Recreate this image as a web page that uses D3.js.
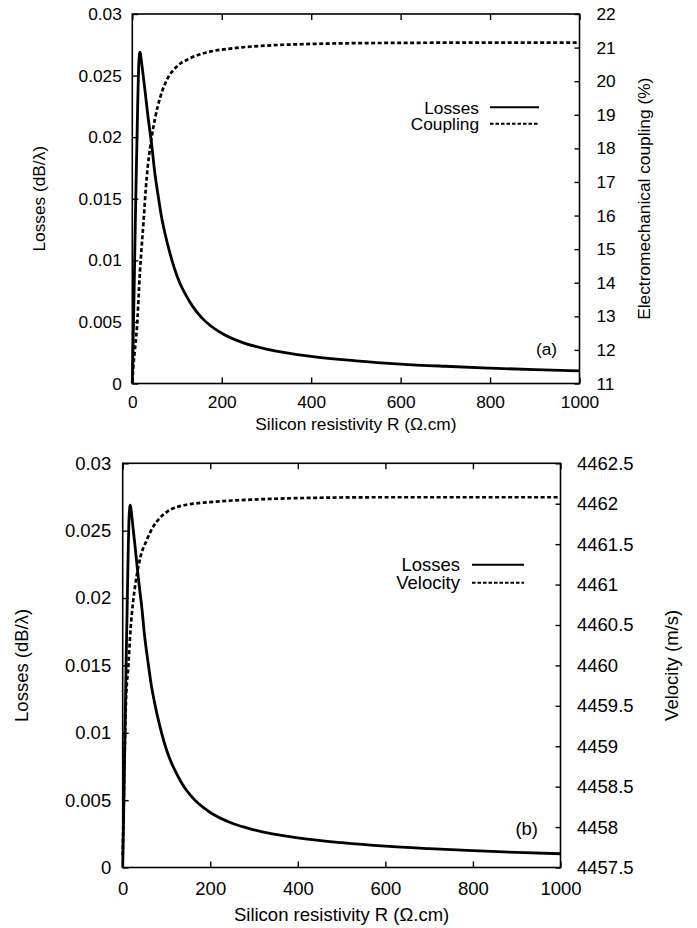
<!DOCTYPE html>
<html>
<head>
<meta charset="utf-8">
<script src="https://cdn.jsdelivr.net/npm/d3@7"></script>
<style>
  html, body { margin: 0; padding: 0; background: #fff; }
  svg { display: block; }
  text { font-family: "Liberation Sans", Arial, Helvetica, sans-serif; fill: #000; }
</style>
</head>
<body>
<svg id="fig" width="697" height="928"></svg>
<script>
// Silicon resistivity R (Ω.cm) and propagation losses (dB/λ)
const lossR  = [0, 2, 4, 6, 8, 10, 12, 14, 16, 17, 18, 20, 23, 26, 29, 35, 40, 43, 50, 58, 65, 73, 84, 95, 107, 118, 135, 155, 175, 200, 250, 300, 400, 500, 600, 700, 800, 900, 1000];
const lossDb = [0, 0.0035, 0.0075, 0.0115, 0.0155, 0.019, 0.0225, 0.0255, 0.0267, 0.0269, 0.0268, 0.0263, 0.0254, 0.0245, 0.0236, 0.0217, 0.0203, 0.0195, 0.0172, 0.0152, 0.0136, 0.0122, 0.0106, 0.00926, 0.0081, 0.0073, 0.00626, 0.00535, 0.00469, 0.00408, 0.00328, 0.0028, 0.0022, 0.00184, 0.00158, 0.0014, 0.00125, 0.00112, 0.00102];

// Electromechanical coupling (%)
const couplingR   = [0, 2, 5, 10, 17, 25, 32, 43, 51, 62, 77, 99, 129, 174, 225, 300, 375, 487, 600, 800, 1000];
const couplingPct = [11.05, 11.45, 11.9, 12.6, 14.3, 15.8, 17.1, 18.3, 18.9, 19.5, 20.03, 20.43, 20.68, 20.88, 20.98, 21.06, 21.10, 21.13, 21.14, 21.15, 21.15];

// Phase velocity (m/s)
const velocityR  = [0, 2, 4, 7.6, 13, 18, 24, 28, 35, 40, 55, 70, 78, 101, 139, 200, 292, 406, 600, 800, 1000];
const velocityMs = [4457.65, 4458.2, 4458.8, 4459.57, 4460.0, 4460.45, 4460.8, 4460.97, 4461.2, 4461.33, 4461.55, 4461.72, 4461.78, 4461.9, 4461.98, 4462.02, 4462.05, 4462.07, 4462.08, 4462.08, 4462.08];

// Tick values
const resistivityTicks = [0, 200, 400, 600, 800, 1000];
const lossTicks = [0, 0.005, 0.01, 0.015, 0.02, 0.025, 0.03];
const couplingTicks = [11, 12, 13, 14, 15, 16, 17, 18, 19, 20, 21, 22];
const velocityTicks = [4457.5, 4458, 4458.5, 4459, 4459.5, 4460, 4460.5, 4461, 4461.5, 4462, 4462.5];

const svg = d3.select("#fig");

function zip(xs, ys) { return xs.map((x, i) => ({ x, y: ys[i] })); }

function drawPanel(cfg) {
  const g = svg.append("g");
  const fs = cfg.fontSize;
  const x = d3.scaleLinear().domain([0, 1000]).range([cfg.left, cfg.right]);
  const yL = d3.scaleLinear().domain([0, 0.03]).range([cfg.bottom, cfg.top]);
  const yR = d3.scaleLinear().domain(cfg.rightDomain).range([cfg.bottom, cfg.top]);

  const styleAxis = sel => {
    sel.select(".domain").remove();
    sel.selectAll(".tick line").attr("stroke", "#000").attr("stroke-width", 1.4);
    sel.selectAll(".tick text").attr("font-size", fs).attr("fill", "#000")
      .style("font-family", '"Liberation Sans", Arial, sans-serif');
  };

  // bottom axis (inward ticks) and mirrored top ticks
  g.append("g").attr("transform", `translate(0,${cfg.bottom})`)
    .call(d3.axisBottom(x).tickValues(resistivityTicks).tickSizeInner(-6).tickSizeOuter(0)
      .tickPadding(cfg.xPad).tickFormat(d3.format("d")))
    .call(styleAxis);
  g.append("g").attr("transform", `translate(0,${cfg.top})`)
    .call(d3.axisTop(x).tickValues(resistivityTicks).tickSizeInner(-6).tickSizeOuter(0).tickFormat(""))
    .call(styleAxis);

  // left axis: losses
  g.append("g").attr("transform", `translate(${cfg.left},0)`)
    .call(d3.axisLeft(yL).tickValues(lossTicks).tickSizeInner(-6).tickSizeOuter(0)
      .tickPadding(cfg.leftPad).tickFormat(d => String(+d.toFixed(3))))
    .call(styleAxis);

  // right axis: coupling / velocity
  g.append("g").attr("transform", `translate(${cfg.right},0)`)
    .call(d3.axisRight(yR).tickValues(cfg.rightTicks).tickSizeInner(-5).tickSizeOuter(0)
      .tickPadding(cfg.rightPad).tickFormat(d => String(d)))
    .call(styleAxis);

  // plot frame
  g.append("rect")
    .attr("x", cfg.left).attr("y", cfg.top)
    .attr("width", cfg.right - cfg.left).attr("height", cfg.bottom - cfg.top)
    .attr("fill", "none").attr("stroke", "#000").attr("stroke-width", 1.6);

  // curves
  const lineL = d3.line().x(d => x(d.x)).y(d => yL(d.y)).curve(d3.curveMonotoneX);
  const lineR = d3.line().x(d => x(d.x)).y(d => yR(d.y)).curve(d3.curveMonotoneX);

  g.append("path").datum(zip(cfg.rightX, cfg.rightY)).attr("d", lineR)
    .attr("fill", "none").attr("stroke", "#000").attr("stroke-width", 2.7)
    .attr("stroke-dasharray", "4,2.5");
  g.append("path").datum(zip(lossR, lossDb)).attr("d", lineL)
    .attr("fill", "none").attr("stroke", "#000").attr("stroke-width", 2.8)
    .attr("stroke-linejoin", "round");

  // axis titles
  g.append("text").attr("x", (cfg.left + cfg.right) / 2).attr("y", cfg.xTitleY)
    .attr("text-anchor", "middle").attr("font-size", fs)
    .text("Silicon resistivity R (\u03A9.cm)");
  g.append("text")
    .attr("transform", `translate(${cfg.leftTitleX},${(cfg.top + cfg.bottom) / 2}) rotate(-90)`)
    .attr("text-anchor", "middle").attr("font-size", fs)
    .text("Losses (dB/\u03BB)");
  g.append("text")
    .attr("transform", `translate(${cfg.rightTitleX},${(cfg.top + cfg.bottom) / 2}) rotate(-90)`)
    .attr("text-anchor", "middle").attr("font-size", fs)
    .text(cfg.rightTitle);

  // key
  const key = g.append("g");
  cfg.key.forEach((k, i) => {
    const ky = cfg.keyY + i * cfg.keyGap;
    key.append("text").attr("x", cfg.keyTextX).attr("y", ky).attr("dy", "0.36em")
      .attr("text-anchor", "end").attr("font-size", fs).text(k.label);
    key.append("line").attr("x1", cfg.keyLineX0).attr("x2", cfg.keyLineX1)
      .attr("y1", ky).attr("y2", ky)
      .attr("stroke", "#000").attr("stroke-width", 2)
      .attr("stroke-dasharray", k.dashed ? "3.5,2" : null);
  });

  // panel tag
  g.append("text").attr("x", cfg.tagX).attr("y", cfg.tagY).attr("dy", "0.36em")
    .attr("text-anchor", "end").attr("font-size", fs).text(cfg.tag);
}

drawPanel({
  left: 132.3, right: 579.5, top: 14, bottom: 383.5, fontSize: 17.3,
  xPad: 12, leftPad: 10.5, rightPad: 17,
  rightDomain: [11, 22], rightTicks: couplingTicks,
  rightX: couplingR, rightY: couplingPct,
  xTitleY: 430, leftTitleX: 44.5, rightTitleX: 649.5,
  rightTitle: "Electromechanical coupling (%)",
  key: [{ label: "Losses", dashed: false }, { label: "Coupling", dashed: true }],
  keyY: 107.3, keyGap: 16.5, keyTextX: 479, keyLineX0: 490, keyLineX1: 539,
  tag: "(a)", tagX: 557, tagY: 349
});

drawPanel({
  left: 122.7, right: 560.5, top: 463.3, bottom: 867.5, fontSize: 18.5,
  xPad: 14, leftPad: 11.5, rightPad: 16.5,
  rightDomain: [4457.5, 4462.5], rightTicks: velocityTicks,
  rightX: velocityR, rightY: velocityMs,
  xTitleY: 921, leftTitleX: 27.8, rightTitleX: 678,
  rightTitle: "Velocity (m/s)",
  key: [{ label: "Losses", dashed: false }, { label: "Velocity", dashed: true }],
  keyY: 564.7, keyGap: 18, keyTextX: 460, keyLineX0: 472, keyLineX1: 524,
  tag: "(b)", tagX: 538, tagY: 828
});
</script>
</body>
</html>
